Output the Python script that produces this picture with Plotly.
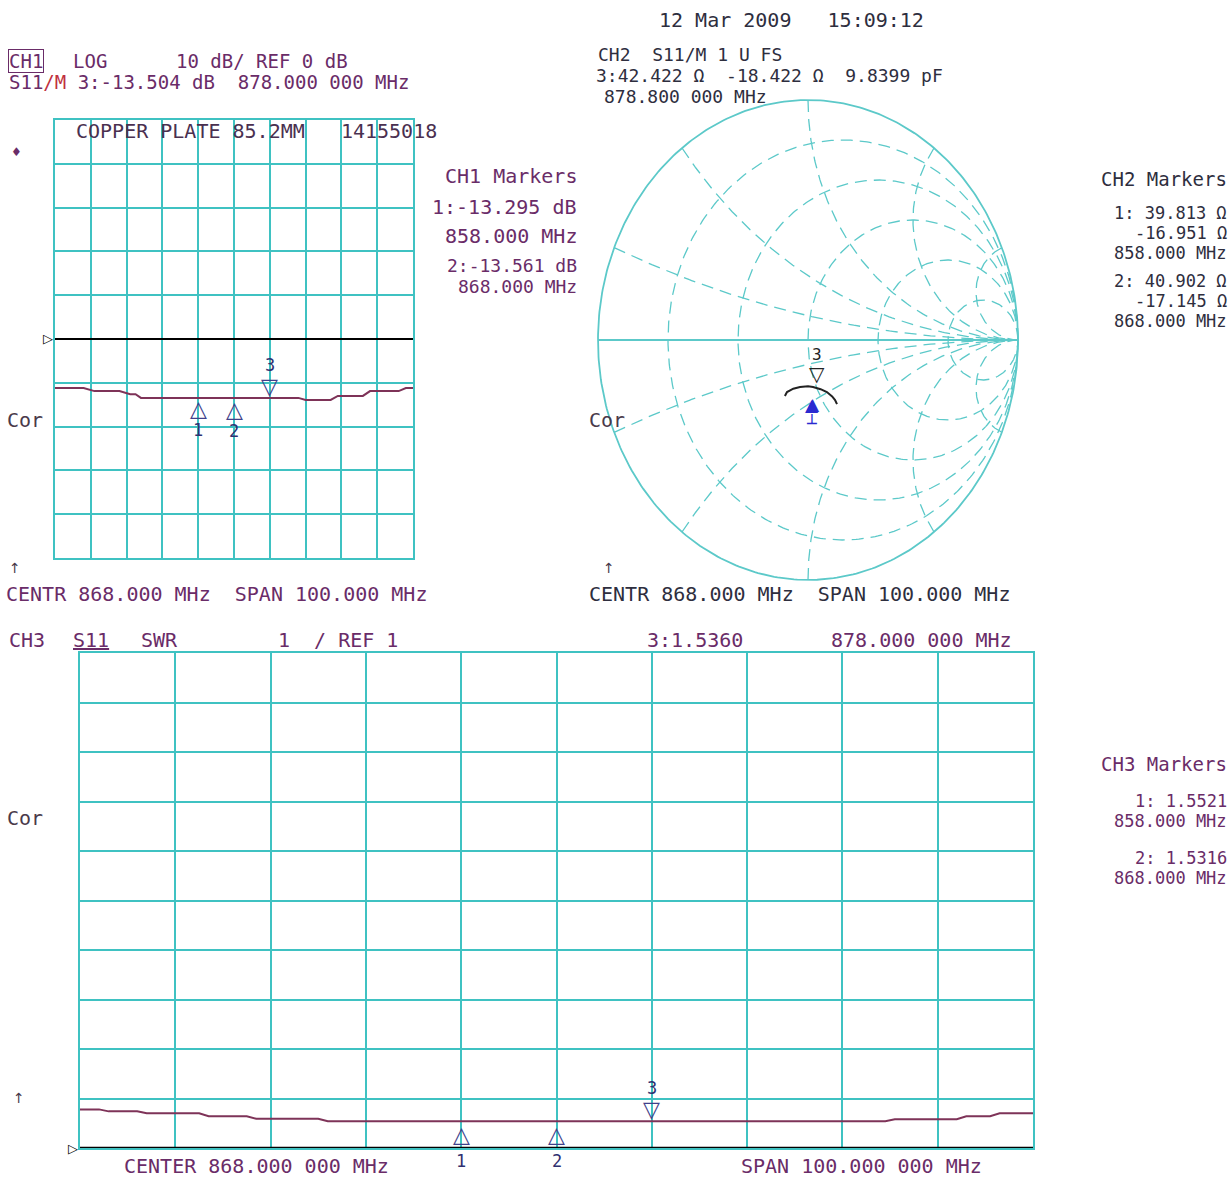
import numpy as np
import plotly.graph_objects as go

# ---------------- data ----------------
# CH1: S11 log magnitude (dB) vs frequency (MHz)
ch1_freq = [818, 826, 829, 836, 839, 840.5, 842, 886, 888, 895, 897, 904, 906, 914, 916, 918]
ch1_db = [-11.2, -11.2, -11.9, -11.9, -12.6, -12.6, -13.45, -13.45, -13.9, -13.9, -13.0, -13.0,
          -11.9, -11.9, -11.2, -11.2]
ch1_ref = 0
ch1_marker_freq = [858, 868, 878]
ch1_marker_db = [-13.295, -13.561, -13.504]
ch1_marker_lab = ["1", "2", "3"]

# CH2: Smith chart trace (reflection coefficient)
ch2_re = [-0.11, -0.10, -0.07, -0.038, 0.0, 0.024, 0.06, 0.09, 0.115, 0.129, 0.138]
ch2_im = [-0.233, -0.217, -0.203, -0.196, -0.193, -0.196, -0.205, -0.217, -0.235, -0.25, -0.267]
ch2_marker_re = [0.019, 0.024, 0.043]
ch2_marker_im = [-0.232, -0.228, -0.196]
smith_r = [0.2, 0.5, 1, 2, 5]
smith_x = [0.2, 0.5, 1, 2, 5]

# CH3: SWR vs frequency (MHz)
ch3_freq = [818, 820, 821, 824, 825, 830.5, 831.5, 835.5, 836.5, 843, 844, 902.5, 903.5, 910,
            911, 913.5, 914.5, 918]
ch3_swr = [1.78, 1.78, 1.74, 1.74, 1.70, 1.70, 1.64, 1.64, 1.59, 1.59, 1.54, 1.54, 1.58, 1.58,
           1.64, 1.64, 1.70, 1.70]
ch3_ref = 1
ch3_marker_freq = [858, 868, 878]
ch3_marker_swr = [1.5521, 1.5316, 1.5360]

# ---------------- style ----------------
W, H = 1231, 1180
FONT = "DejaVu Sans Mono"
SYM = "DejaVu Sans"
GRID = "#3fc2c2"
SMITH = "#5cc9c9"
TRACE = "#7e3358"
PURPLE = "#6a2c68"
DARK = "#2e2e3e"
MKR = "#40408a"
BLUE = "#2a2ad0"


def px(x):
    return x / W


def py(y):
    return 1 - y / H


fig = go.Figure()

# CH1 trace
fig.add_trace(go.Scatter(x=ch1_freq, y=ch1_db, mode="lines", line=dict(color=TRACE, width=2),
                         xaxis="x", yaxis="y", hoverinfo="skip", showlegend=False))

# Smith chart graticule
th = np.linspace(0, 2 * np.pi, 400)
for r in smith_r:
    c, rad = r / (1 + r), 1 / (1 + r)
    fig.add_trace(go.Scatter(x=c + rad * np.cos(th), y=rad * np.sin(th), mode="lines",
                             line=dict(color=SMITH, width=1.3, dash="12px,7px"),
                             xaxis="x2", yaxis="y2", hoverinfo="skip", showlegend=False))
rr = np.concatenate([[0], np.logspace(-3, 3, 400)])
for xv in smith_x:
    for s in (1, -1):
        z = rr + 1j * s * xv
        g = (z - 1) / (z + 1)
        fig.add_trace(go.Scatter(x=g.real, y=g.imag, mode="lines",
                                 line=dict(color=SMITH, width=1.3, dash="12px,7px"),
                                 xaxis="x2", yaxis="y2", hoverinfo="skip", showlegend=False))
fig.add_trace(go.Scatter(x=np.cos(th), y=np.sin(th), mode="lines",
                         line=dict(color=SMITH, width=1.8),
                         xaxis="x2", yaxis="y2", hoverinfo="skip", showlegend=False))
fig.add_trace(go.Scatter(x=[-1, 1], y=[0, 0], mode="lines", line=dict(color=SMITH, width=1.8),
                         xaxis="x2", yaxis="y2", hoverinfo="skip", showlegend=False))
fig.add_trace(go.Scatter(x=ch2_re, y=ch2_im, mode="lines", line=dict(color="#222222", width=2),
                         xaxis="x2", yaxis="y2", hoverinfo="skip", showlegend=False))

# CH3 trace
fig.add_trace(go.Scatter(x=ch3_freq, y=ch3_swr, mode="lines", line=dict(color=TRACE, width=2),
                         xaxis="x3", yaxis="y3", hoverinfo="skip", showlegend=False))

grid_ax = dict(showgrid=True, gridcolor=GRID, gridwidth=1.5, showline=True, linecolor=GRID,
               linewidth=1.5, mirror=True, zeroline=False, showticklabels=False, ticks="",
               fixedrange=True)
plain_ax = dict(showgrid=False, showline=False, zeroline=False, showticklabels=False, ticks="",
                fixedrange=True)

anns = []


def txt(x, y, s, color=PURPLE, size=20, anchor="left", family=FONT, **kw):
    kw.setdefault("borderpad", 0)
    anns.append(dict(xref="paper", yref="paper", x=px(x), y=py(y), text=s, showarrow=False,
                     xanchor=anchor, yanchor="middle",
                     font=dict(family=family, size=size, color=color), **kw))


def mk(xr, yr, x, y, s, color, size, yanchor, yshift, family=SYM):
    anns.append(dict(xref=xr, yref=yr, x=x, y=y, text=s, showarrow=False, xanchor="center",
                     yanchor=yanchor, yshift=yshift, borderpad=0,
                     font=dict(family=family, size=size, color=color)))


# ---- CH1 texts ----
txt(8, 61, "CH1", PURPLE, size=19, bordercolor=PURPLE, borderwidth=1)
txt(72, 61, "LOG", size=19)
txt(175, 61, "10 dB/ REF 0 dB", size=19)
txt(8, 82, "S11<span style='color:#c03040'>/M</span> 3:-13.504 dB  878.000 000 MHz", size=19)
txt(75, 131, "COPPER PLATE 85.2MM   14155018", "#4a3050", size=20)
txt(10, 152, "♦", PURPLE, size=12, family=SYM)
txt(6, 420, "Cor", "#4a3a4a")
txt(8, 568, "↑", "#4a3a4a", size=14, family=SYM)
txt(5, 594, "CENTR 868.000 MHz  SPAN 100.000 MHz")
for yy, s, fs in [(176, "CH1 Markers", 20), (207, "1:-13.295 dB", 20), (236, "858.000 MHz", 20),
                  (265, "2:-13.561 dB", 18), (286, "868.000 MHz", 18)]:
    txt(578, yy, s, PURPLE, size=fs, anchor="right")

# CH1 markers
for f, v, lab in zip(ch1_marker_freq, ch1_marker_db, ch1_marker_lab):
    if lab == "3":
        mk("x", "y", f, v, "▽", MKR, 22, "bottom", -2)
        mk("x", "y", f, v, lab, "#303070", 17, "bottom", 22, FONT)
    else:
        mk("x", "y", f, v, "△", MKR, 22, "top", 2)
        mk("x", "y", f, v, lab, "#303070", 17, "top", -22, FONT)
anns.append(dict(xref="x domain", yref="y", x=0, y=ch1_ref, text="▷", showarrow=False,
                 xanchor="right", yanchor="middle", font=dict(family=SYM, size=13, color="black")))

# ---- CH2 texts ----
txt(658, 20, "12 Mar 2009   15:09:12", DARK)
txt(597, 55, "CH2  S11/M 1 U FS", DARK, size=18)
txt(595, 76, "3:42.422 Ω  -18.422 Ω  9.8399 pF", DARK, size=18)
txt(603, 96, "878.800 000 MHz", DARK, size=18)
txt(588, 420, "Cor", "#4a3a4a")
txt(602, 568, "↑", "#4a3a4a", size=14, family=SYM)
txt(588, 594, "CENTR 868.000 MHz  SPAN 100.000 MHz", DARK)
txt(1228, 179, "CH2 Markers", DARK, size=19, anchor="right")
for yy, s in [(213, "1: 39.813 Ω"), (233, "-16.951 Ω"), (253, "858.000 MHz"),
              (281, "2: 40.902 Ω"), (301, "-17.145 Ω"), (321, "868.000 MHz")]:
    txt(1228, yy, s, DARK, size=17, anchor="right")

# CH2 markers
mk("x2", "y2", ch2_marker_re[2], ch2_marker_im[2], "▽", "#222222", 20, "bottom", 0)
mk("x2", "y2", ch2_marker_re[2], ch2_marker_im[2], "3", "#222222", 16, "bottom", 22, FONT)
mk("x2", "y2", ch2_marker_re[0], ch2_marker_im[0], "▲", BLUE, 17, "top", 2)
mk("x2", "y2", ch2_marker_re[1], ch2_marker_im[1], "▲", BLUE, 17, "top", 2)
mk("x2", "y2", ch2_marker_re[0], ch2_marker_im[0], "┴", BLUE, 16, "top", -16)

# ---- CH3 texts ----
txt(8, 640, "CH3")
txt(72, 640, "<u>S11</u>")
txt(140, 640, "SWR")
txt(277, 640, "1  / REF 1")
txt(646, 640, "3:1.5360")
txt(830, 640, "878.000 000 MHz")
txt(6, 818, "Cor", "#4a3a4a")
txt(12, 1098, "↑", "#4a3a4a", size=14, family=SYM)
txt(123, 1166, "CENTER 868.000 000 MHz")
txt(740, 1166, "SPAN 100.000 000 MHz")
txt(1228, 764, "CH3 Markers", PURPLE, size=19, anchor="right")
for yy, s in [(801, "1: 1.5521"), (821, "858.000 MHz"),
              (858, "2: 1.5316"), (878, "868.000 MHz")]:
    txt(1228, yy, s, PURPLE, size=17, anchor="right")

# CH3 markers
for f, v, lab in zip(ch3_marker_freq, ch3_marker_swr, ["1", "2", "3"]):
    if lab == "3":
        mk("x3", "y3", f, v, "▽", MKR, 22, "bottom", -2)
        mk("x3", "y3", f, v, lab, "#303070", 17, "bottom", 22, FONT)
    else:
        mk("x3", "y3", f, ch3_ref, "△", MKR, 22, "bottom", 0)
        mk("x3", "y3", f, ch3_ref, lab, "#303070", 17, "top", -2, FONT)
anns.append(dict(xref="x3 domain", yref="y3", x=0, y=ch3_ref, text="▷", showarrow=False,
                 xanchor="right", yanchor="middle", font=dict(family=SYM, size=13, color="black")))

shapes = [
    dict(type="line", xref="x domain", yref="y", x0=0, x1=1, y0=ch1_ref, y1=ch1_ref,
         line=dict(color="black", width=2)),
    dict(type="line", xref="x3 domain", yref="y3", x0=0, x1=1, y0=ch3_ref, y1=ch3_ref,
         line=dict(color="black", width=2.5)),
]

fig.update_layout(
    width=W, height=H, margin=dict(l=0, r=0, t=0, b=0),
    paper_bgcolor="white", plot_bgcolor="white", showlegend=False,
    xaxis=dict(domain=[px(55), px(413)], range=[818, 918], dtick=10, tick0=818, anchor="y",
               **grid_ax),
    yaxis=dict(domain=[py(558), py(120)], range=[-50, 50], dtick=10, tick0=-50, anchor="x",
               **grid_ax),
    xaxis2=dict(domain=[px(808 - 1.02 * 210), px(808 + 1.02 * 210)], range=[-1.02, 1.02],
                anchor="y2", **plain_ax),
    yaxis2=dict(domain=[py(340 + 1.02 * 240), py(340 - 1.02 * 240)], range=[-1.02, 1.02],
                anchor="x2", **plain_ax),
    xaxis3=dict(domain=[px(80), px(1033)], range=[818, 918], dtick=10, tick0=818, anchor="y3",
                **grid_ax),
    yaxis3=dict(domain=[py(1148), py(653)], range=[1, 11], dtick=1, tick0=1, anchor="x3",
                **grid_ax),
    annotations=anns, shapes=shapes,
)

fig.write_html("out.html", config={"displayModeBar": False},
               post_script="document.body.style.margin='0';document.body.style.overflow='hidden';")
